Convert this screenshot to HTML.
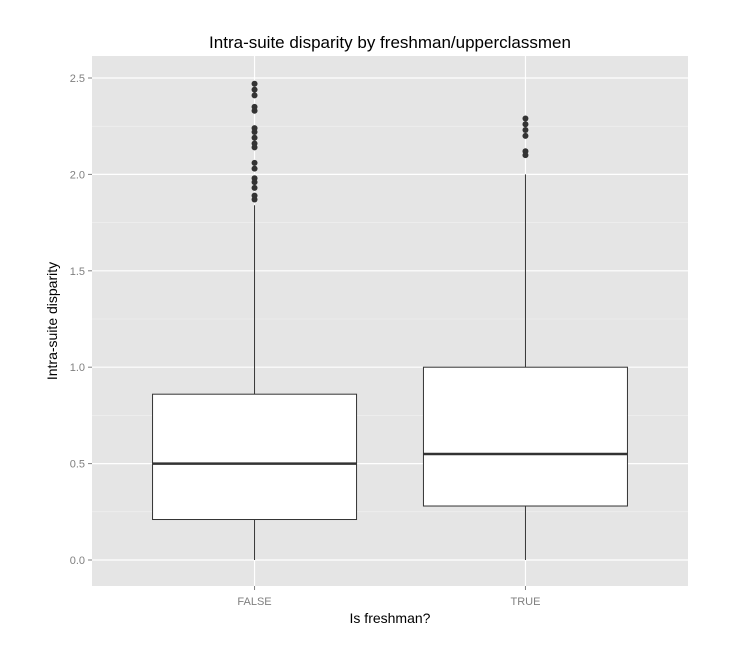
<!DOCTYPE html>
<html><head><meta charset="utf-8"><style>
body{margin:0;background:#fff;font-family:"Liberation Sans",sans-serif}
</style></head><body>
<svg id="c" width="742" height="648" xmlns="http://www.w3.org/2000/svg"></svg>
<script>
const categories=["FALSE","TRUE"];
const q1=[0.21,0.28];
const medians=[0.50,0.55];
const q3=[0.86,1.00];
const whiskerLow=[0.0,0.0];
const whiskerHigh=[1.84,2.0];
const outliersFalse=[2.47,2.44,2.41,2.35,2.33,2.24,2.22,2.19,2.16,2.14,2.06,2.03,1.98,1.96,1.93,1.89,1.87];
const outliersTrue=[2.29,2.26,2.23,2.20,2.12,2.10];
const yTicks=[0,0.5,1.0,1.5,2.0,2.5];
const yTickLabels=["0.0","0.5","1.0","1.5","2.0","2.5"];
const outliers=[outliersFalse,outliersTrue];

const NS="http://www.w3.org/2000/svg";
const svg=document.getElementById('c');
const px0=92,px1=688,py0=56,py1=586;
const y=v=>560-v*192.8;
const x=i=>px0+(i+1-0.4)*(px1-px0)/2.2;
function mk(t,a,p){const e=document.createElementNS(NS,t);for(const k in a)e.setAttribute(k,a[k]);(p||svg).appendChild(e);return e;}
let e=mk('rect',{x:px0,y:py0,width:px1-px0,height:py1-py0,fill:'#e5e5e5'});


for(let i=0;i<yTicks.length-1;i++){const v=(yTicks[i]+yTicks[i+1])/2;e=mk('line',{x1:px0,x2:px1,y1:y(v),y2:y(v),stroke:'#f2f2f2','stroke-width':0.6});

}
yTicks.forEach((v,i)=>{e=mk('line',{x1:px0,x2:px1,y1:y(v),y2:y(v),stroke:'#fff','stroke-width':1.2});


e=mk('line',{x1:px0-4,x2:px0,y1:y(v),y2:y(v),stroke:'#7f7f7f'});


e=mk('text',{x:px0-7,y:y(v)+4,'text-anchor':'end','font-size':11,fill:'#7f7f7f'});e.textContent=yTickLabels[i];

});
categories.forEach((c,i)=>{const cx=x(i);
e=mk('line',{x1:cx,x2:cx,y1:py0,y2:py1,stroke:'#fff','stroke-width':1.2});


e=mk('line',{x1:cx,x2:cx,y1:y(whiskerLow[i]),y2:y(whiskerHigh[i]),stroke:'#333'});


const w=204;
e=mk('rect',{x:cx-w/2,y:y(q3[i]),width:w,height:y(q1[i])-y(q3[i]),fill:'#fff',stroke:'#333'});


e=mk('line',{x1:cx-w/2,x2:cx+w/2,y1:y(medians[i]),y2:y(medians[i]),stroke:'#333','stroke-width':2.5});


outliers[i].forEach(v=>{e=mk('circle',{cx:cx,cy:y(v),r:3,fill:'#333'});

});
e=mk('line',{x1:cx,x2:cx,y1:py1,y2:py1+4,stroke:'#7f7f7f'});


e=mk('text',{x:cx,y:py1+19,'text-anchor':'middle','font-size':11,fill:'#7f7f7f'});e.textContent=c;

});
e=mk('text',{x:390,y:48,'text-anchor':'middle','font-size':17,fill:'#000'});e.textContent='Intra-suite disparity by freshman/upperclassmen';


e=mk('text',{x:390,y:623,'text-anchor':'middle','font-size':14,fill:'#000'});e.textContent='Is freshman?';


e=mk('text',{x:0,y:0,'text-anchor':'middle','font-size':14,fill:'#000',transform:'translate(57,321) rotate(-90)'});e.textContent='Intra-suite disparity';


</script>
</body></html>
